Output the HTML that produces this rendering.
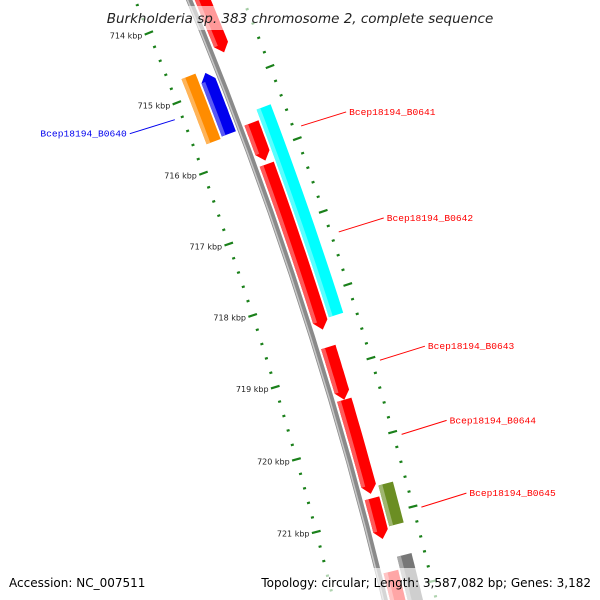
<!DOCTYPE html>
<html><head><meta charset="utf-8"><style>
html,body{margin:0;padding:0;background:#fff;overflow:hidden;}
svg{display:block;}
</style></head><body>
<svg id="map" width="600" height="600" viewBox="0 0 600 600" xmlns="http://www.w3.org/2000/svg">
<g id="ticks"></g>
<g id="backbone"></g>
<g id="genes"></g>
<g id="labels"></g>
<rect x="100" y="6" width="400" height="24" fill="#fff" opacity="0.6"/>
<text x="300" y="23" text-anchor="middle" font-family="DejaVu Sans, sans-serif" font-style="italic" font-size="13.5" fill="#222">Burkholderia sp. 383 chromosome 2, complete sequence</text>
<rect x="0" y="568" width="600" height="32" fill="#fff" opacity="0.65"/>
<text x="9" y="587" font-family="DejaVu Sans, sans-serif" font-size="12" fill="#000">Accession: NC_007511</text>
<text x="591" y="587" text-anchor="end" font-family="DejaVu Sans, sans-serif" font-size="12" fill="#000">Topology: circular; Length: 3,587,082 bp; Genes: 3,182</text>
</svg>
<script>
const geneNames   = ["", "Bcep18194_B0640", "", "Bcep18194_B0641", "Bcep18194_B0642", "", "Bcep18194_B0643", "Bcep18194_B0644", "Bcep18194_B0645", "", "", ""];
const geneStarts  = [713400, 714770, 714730, 715600, 716175, 715460, 718700, 719420, 720760, 720620, 721750, 721580];
const geneEnds    = [714610, 715630, 715655, 716125, 718460, 718330, 719420, 720700, 721310, 721170, 722500, 722500];
const geneStrands = [1, -1, -1, 1, 1, 1, 1, 1, 1, 1, 1, 1];
const geneRows    = [1, 1, 2, 1, 1, 2, 1, 1, 1, 2, 1, 2];
const geneArrows  = [1, 1, 0, 1, 1, 0, 1, 1, 1, 0, 1, 0];
const geneColors  = ["#ff0000","#0000ee","#ff8c00","#ff0000","#ff0000","#00ffff","#ff0000","#ff0000","#ff0000","#6b8e23","#ff0000","#777777"];
const tickKbp     = [714, 715, 716, 717, 718, 719, 720, 721];
const tickLabels  = ["714 kbp","715 kbp","716 kbp","717 kbp","718 kbp","719 kbp","720 kbp","721 kbp"];

const NS = "http://www.w3.org/2000/svg";
const R = 4000, CX = 300 - R*0.951, CY = 300 + R*0.309;
const TH0 = Math.atan2(-0.309, 0.951);
const K = 0.0762 / R; // rad per bp
function ang(bp){ return TH0 + (bp - 718000) * K; }
function pt(bp, off){ const a = ang(bp), r = R + off; return [CX + r*Math.cos(a), CY + r*Math.sin(a)]; }
function mk(tag, attrs, parent){ const e = document.createElementNS(NS, tag); for (const k in attrs) e.setAttribute(k, attrs[k]); parent.appendChild(e); return e; }
function arcPts(b0, b1, off){ const n = 12, out = []; for (let i=0;i<=n;i++){ out.push(pt(b0 + (b1-b0)*i/n, off)); } return out; }
function poly(pts){ return pts.map(p => p[0].toFixed(1)+","+p[1].toFixed(1)).join(" "); }
function lighten(hex, f){ const n = parseInt(hex.slice(1),16); let r=n>>16, g=(n>>8)&255, b=n&255; r=Math.round(r+(255-r)*f); g=Math.round(g+(255-g)*f); b=Math.round(b+(255-b)*f); return `rgb(${r},${g},${b})`; }

// backbone
const bb = document.getElementById('backbone');
const bbLine = mk('polyline', {points: poly(arcPts(712500, 722800, 0)), fill:'none', stroke:'#8a8a8a', 'stroke-width':6}, bb);


const bbHi = mk('polyline', {points: poly(arcPts(712500, 722800, -1.5)), fill:'none', stroke:'#c8c8c8', 'stroke-width':1.5}, bb);



// ticks
const tg = document.getElementById('ticks');
const green = '#1a801a';
for (let bp = 712600; bp <= 722600; bp += 200){
  const major = bp % 1000 === 0;
  [-50, 50].forEach(ring => {
    const len = major ? 4.5 : 1.5;
    const p1 = pt(bp, ring - len), p2 = pt(bp, ring + len);
    const l = mk('line', {x1:p1[0], y1:p1[1], x2:p2[0], y2:p2[1], stroke:green, 'stroke-width':2.2}, tg);
    
    
  });
}
tickKbp.forEach((kb, i) => {
  const p = pt(kb*1000, -57);
  const t = mk('text', {x:p[0], y:p[1]+3, 'text-anchor':'end', 'font-family':'DejaVu Sans, sans-serif', 'font-size':'8', fill:'#222'}, tg);
  t.textContent = tickLabels[i];
  
  
});

// genes
const gg = document.getElementById('genes');
const lg = document.getElementById('labels');
const arrowBp = 110;
geneStarts.forEach((s, i) => {
  const e = geneEnds[i], st = geneStrands[i], row = geneRows[i];
  const inner = row === 1 ? 5 : 22, outer = inner + 15;
  const o1 = st * inner, o2 = st * outer;
  const mid = (o1 + o2) / 2;
  let shape;
  if (geneArrows[i]){
    if (st > 0){
      const be = e - arrowBp;
      shape = arcPts(s, be, o1).concat([pt(e, mid)], arcPts(s, be, o2).reverse());
    } else {
      const bs = s + arrowBp;
      shape = arcPts(bs, e, o1).concat(arcPts(bs, e, o2).reverse(), [pt(s, mid)]);
    }
  } else {
    shape = arcPts(s, e, o1).concat(arcPts(s, e, o2).reverse());
  }
  const g = mk('polygon', {points: poly(shape), fill: geneColors[i]}, gg);
  
  
  const lo = Math.min(o1, o2), sEdge = geneArrows[i] && st < 0 ? s + arrowBp : s, eEdge = geneArrows[i] && st > 0 ? e - arrowBp : e;
  const hl = arcPts(sEdge, eEdge, lo).concat(arcPts(sEdge, eEdge, lo + 4).reverse());
  const h = mk('polygon', {points: poly(hl), fill: lighten(geneColors[i], 0.35)}, gg);
  
  
  if (geneNames[i]){
    const m = (s + e) / 2;
    const col = st > 0 ? '#ff0000' : '#0000ee';
    const p = pt(m, st * 58);
    const q = [p[0] + st*45, p[1] - st*14];
    const ln = mk('line', {x1:p[0], y1:p[1], x2:q[0], y2:q[1], stroke:col, 'stroke-width':1}, lg);
    
    
    const t = mk('text', {x:q[0] + st*3, y:q[1] + 3, 'text-anchor': st > 0 ? 'start' : 'end', 'font-family':'Liberation Mono, monospace', 'font-size':'9.6', fill:col}, lg);
    t.textContent = geneNames[i];
    
    
  }
});
</script>
</body></html>
